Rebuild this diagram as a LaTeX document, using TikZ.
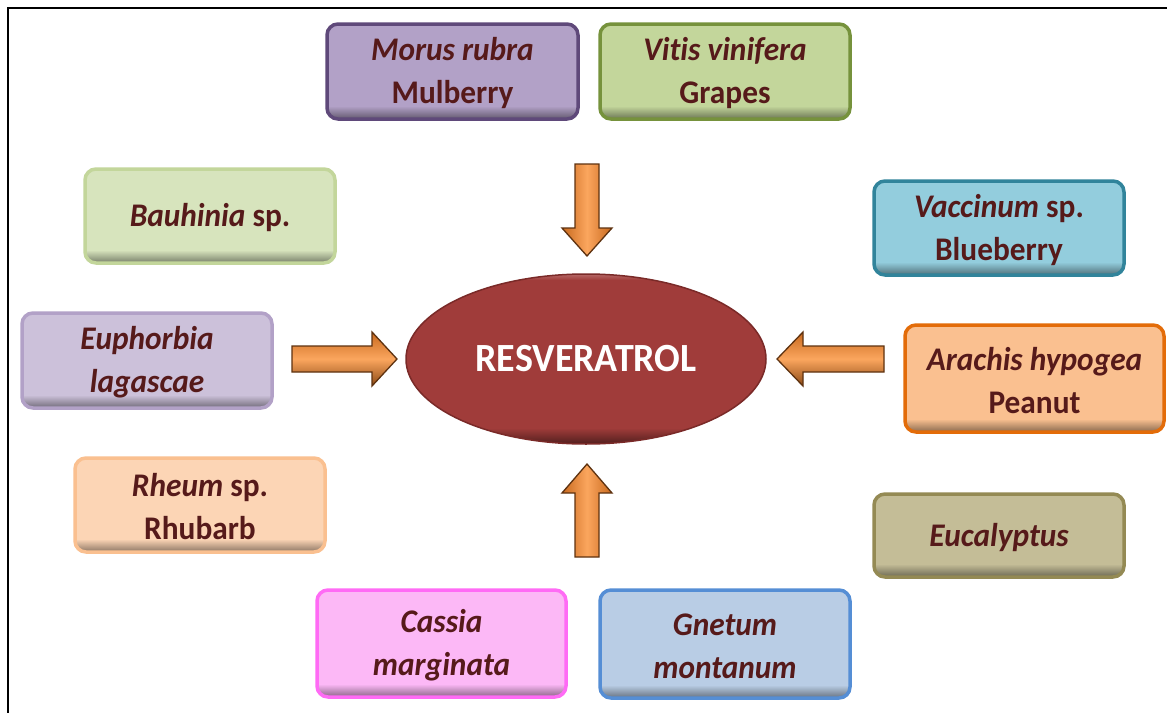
\documentclass[tikz,border=0pt]{standalone}
\usepackage{fontspec}
\newfontfamily\labfont[FakeStretch=0.95,Ligatures={NoCommon,NoRare}]{Carlito}
\usetikzlibrary{shapes.geometric}
\definecolor{labcol}{HTML}{561A1A}
\definecolor{morusF}{HTML}{B2A1C7}\definecolor{morusB}{HTML}{5F497A}
\definecolor{vitisF}{HTML}{C3D69B}\definecolor{vitisB}{HTML}{76923C}
\definecolor{bauhF}{HTML}{D7E4BD}\definecolor{bauhB}{HTML}{C3D69B}
\definecolor{vaccF}{HTML}{93CDDD}\definecolor{vaccB}{HTML}{31849B}
\definecolor{euphF}{HTML}{CCC1DA}\definecolor{euphB}{HTML}{B2A1C7}
\definecolor{arachF}{HTML}{FAC090}\definecolor{arachB}{HTML}{E36C09}
\definecolor{rheumF}{HTML}{FCD5B5}\definecolor{rheumB}{HTML}{FAC090}
\definecolor{eucaF}{HTML}{C4BD97}\definecolor{eucaB}{HTML}{948A54}
\definecolor{cassF}{HTML}{FCB8F6}\definecolor{cassB}{HTML}{FF6BF5}
\definecolor{gnetF}{HTML}{B9CDE5}\definecolor{gnetB}{HTML}{558ED5}
\definecolor{resvF}{HTML}{A03C3A}\definecolor{resvB}{HTML}{7A2A28}
\definecolor{arrL}{HTML}{FBA65E}\definecolor{arrD}{HTML}{C8691E}\definecolor{arrB}{HTML}{5E3210}
\newcommand\plantbox[7]{%
  \node[boxshape, fill=#5, minimum width=#3, minimum height=#4] (#1) at #2 {};
  \begin{scope}
    \clip[rounded corners=11pt] (#1.south west) rectangle (#1.north east);
    \shade[top color=#5, bottom color=#5!55!black] ([yshift=13pt]#1.south west) rectangle (#1.south east);
  \end{scope}
  \draw[draw=#6, line width=3.5pt, rounded corners=11pt] (#1.south west) rectangle (#1.north east);
  \node[plantlabel] (#1-t) at ([yshift=-2pt]#1.center) {#7};
}
\begin{document}
\begin{tikzpicture}[x=1pt,y=-1pt,
  boxshape/.style={rectangle, rounded corners=11pt, inner sep=0pt, outer sep=0pt},
  plantlabel/.style={align=center, text=labcol, inner sep=0pt,
    font=\labfont\fontsize{33}{43}\selectfont\bfseries},
  arrowshape/.style={draw=arrB, line width=1.3pt, line join=miter},
  vshade/.style={left color=arrD, right color=arrD, middle color=arrL},
  hshade/.style={top color=arrD, bottom color=arrD!70!black, middle color=arrL}]
\useasboundingbox (0,0) rectangle (1167,712);
\fill[white] (0,0) rectangle (1167,712);
% frame
\draw[line width=2pt] (8,720) -- (8,8) -- (1175,8);

% plant boxes
\plantbox{morus}{(452.5,71.5)}{251pt}{95pt}{morusF}{morusB}{\itshape Morus rubra\\Mulberry}
\plantbox{vitis}{(725,71.5)}{250pt}{95pt}{vitisF}{vitisB}{\itshape Vitis vinifera\\Grapes}
\plantbox{bauh}{(210,216)}{250pt}{94pt}{bauhF}{bauhB}{\textit{Bauhinia} sp.}
\plantbox{vacc}{(999,228)}{250pt}{94pt}{vaccF}{vaccB}{\textit{Vaccinum} sp.\\Blueberry}
\plantbox{euph}{(147,360.5)}{250pt}{95pt}{euphF}{euphB}{\itshape Euphorbia\\\itshape lagascae}
\plantbox{arach}{(1034.5,378.5)}{259pt}{107pt}{arachF}{arachB}{\textit{Arachis hypogea}\\Peanut}
\plantbox{rheum}{(200,505)}{250pt}{94pt}{rheumF}{rheumB}{\textit{Rheum} sp.\\Rhubarb}
\plantbox{euca}{(999,535.5)}{250pt}{83pt}{eucaF}{eucaB}{\itshape Eucalyptus}
\plantbox{cass}{(441.5,643.5)}{249pt}{107pt}{cassF}{cassB}{\itshape Cassia\\\itshape marginata}
\plantbox{gnet}{(725,644)}{250pt}{108pt}{gnetF}{gnetB}{\itshape Gnetum\\\itshape montanum}

% central ellipse
\node[ellipse, fill=resvF, inner sep=0pt, minimum width=360pt, minimum height=170pt] (res) at (586,359) {};
\begin{scope}
  \clip (586,359) ellipse [x radius=180, y radius=85];
  \shade[top color=resvF, bottom color=resvF!45!black] (400,428) rectangle (775,446);
  \shade[top color=resvF!70!white, bottom color=resvF] (400,272) rectangle (775,280);
\end{scope}
\draw[draw=resvB, line width=1.5pt] (586,359) ellipse [x radius=180, y radius=85];
\node[text=white, inner sep=0pt, font=\labfont\fontsize{40}{48}\selectfont\bfseries] (res-t) at (res.center) {RESVERATROL};

% block arrows
\path[arrowshape, vshade] (575,164) -- (599,164) -- (599,228) -- (612,228) -- (587,256) -- (562,228) -- (575,228) -- cycle;
\path[arrowshape, vshade] (575,557) -- (599,557) -- (599,493) -- (612,493) -- (587,464) -- (562,493) -- (575,493) -- cycle;
\path[arrowshape, hshade] (292,346) -- (372,346) -- (372,332) -- (397,359) -- (372,386) -- (372,372) -- (292,372) -- cycle;
\path[arrowshape, hshade] (884,346) -- (803,346) -- (803,332) -- (777,359) -- (803,386) -- (803,372) -- (884,372) -- cycle;
\end{tikzpicture}
\end{document}
